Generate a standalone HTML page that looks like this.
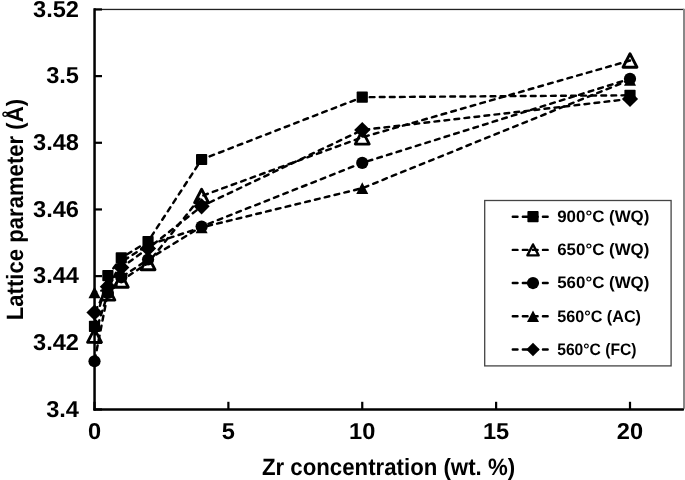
<!DOCTYPE html>
<html><head><meta charset="utf-8"><style>
html,body{margin:0;padding:0;background:#fff;}
svg{display:block;will-change:transform;}
text{font-family:"Liberation Sans",sans-serif;font-weight:bold;fill:#000;text-rendering:geometricPrecision;}
.tk{font-size:23.0px;}
.tt{font-size:23.6px;}
.lg{font-size:16.6px;}
</style></head><body>
<svg width="685" height="480" viewBox="0 0 685 480">
<rect width="685" height="480" fill="#fff"/>
<rect x="94.5" y="8.8" width="589.5" height="1.3" fill="#222"/>
<rect x="683" y="8.8" width="2" height="400" fill="#888"/>
<rect x="93.3" y="8.3" width="2.5" height="402.4" fill="#000"/>
<rect x="93.3" y="408.2" width="590.8" height="2.5" rx="1" fill="#000"/>
<rect x="94" y="408.35" width="8" height="2.2" fill="#000"/>
<rect x="94" y="341.68" width="8" height="2.2" fill="#000"/>
<rect x="94" y="275.02" width="8" height="2.2" fill="#000"/>
<rect x="94" y="208.35" width="8" height="2.2" fill="#000"/>
<rect x="94" y="141.68" width="8" height="2.2" fill="#000"/>
<rect x="94" y="75.01" width="8" height="2.2" fill="#000"/>
<rect x="94" y="8.35" width="8" height="2.2" fill="#000"/>
<rect x="93.40" y="401.8" width="2.2" height="8" fill="#000"/>
<rect x="227.28" y="401.8" width="2.2" height="8" fill="#000"/>
<rect x="361.15" y="401.8" width="2.2" height="8" fill="#000"/>
<rect x="495.02" y="401.8" width="2.2" height="8" fill="#000"/>
<rect x="628.90" y="401.8" width="2.2" height="8" fill="#000"/>
<polyline points="94.50,326.40 107.89,275.60 121.28,257.80 148.05,241.50 201.60,159.50 362.25,97.20 630.00,95.30" fill="none" stroke="#000" stroke-width="2.45" stroke-dasharray="4.75 5.32" stroke-dashoffset="-1.225" stroke-linecap="round"/>
<polyline points="94.50,335.60 107.89,293.30 121.28,280.50 148.05,263.00 201.60,196.00 362.25,137.30 630.00,60.50" fill="none" stroke="#000" stroke-width="2.45" stroke-dasharray="4.75 5.32" stroke-dashoffset="-1.225" stroke-linecap="round"/>
<polyline points="94.50,361.25 107.89,293.00 121.28,277.30 148.05,259.50 201.60,226.50 362.25,162.90 630.00,78.80" fill="none" stroke="#000" stroke-width="2.45" stroke-dasharray="4.75 5.32" stroke-dashoffset="-1.225" stroke-linecap="round"/>
<polyline points="94.50,292.30 107.89,289.00 121.28,262.00 148.05,245.00 201.60,227.40 362.25,188.20 630.00,79.80" fill="none" stroke="#000" stroke-width="2.45" stroke-dasharray="4.75 5.32" stroke-dashoffset="-7.015" stroke-linecap="round"/>
<polyline points="94.50,312.50 107.89,286.70 121.28,267.50 148.05,248.50 201.60,206.30 362.25,130.00 630.00,98.90" fill="none" stroke="#000" stroke-width="2.45" stroke-dasharray="4.75 5.32" stroke-dashoffset="-1.225" stroke-linecap="round"/>
<rect x="88.90" y="320.80" width="11.20" height="11.20" rx="0.8" fill="#000"/>
<rect x="102.29" y="270.00" width="11.20" height="11.20" rx="0.8" fill="#000"/>
<rect x="115.68" y="252.20" width="11.20" height="11.20" rx="0.8" fill="#000"/>
<rect x="142.45" y="235.90" width="11.20" height="11.20" rx="0.8" fill="#000"/>
<rect x="196.00" y="153.90" width="11.20" height="11.20" rx="0.8" fill="#000"/>
<rect x="356.65" y="91.60" width="11.20" height="11.20" rx="0.8" fill="#000"/>
<rect x="624.40" y="89.70" width="11.20" height="11.20" rx="0.8" fill="#000"/>
<polygon points="94.50,328.85 101.50,342.35 87.50,342.35" fill="none" stroke="#000" stroke-width="2.8" stroke-linejoin="round"/>
<polygon points="107.89,286.55 114.89,300.05 100.89,300.05" fill="none" stroke="#000" stroke-width="2.8" stroke-linejoin="round"/>
<polygon points="121.28,273.75 128.28,287.25 114.28,287.25" fill="none" stroke="#000" stroke-width="2.8" stroke-linejoin="round"/>
<polygon points="148.05,256.25 155.05,269.75 141.05,269.75" fill="none" stroke="#000" stroke-width="2.8" stroke-linejoin="round"/>
<polygon points="201.60,189.25 208.60,202.75 194.60,202.75" fill="none" stroke="#000" stroke-width="2.8" stroke-linejoin="round"/>
<polygon points="362.25,130.55 369.25,144.05 355.25,144.05" fill="none" stroke="#000" stroke-width="2.8" stroke-linejoin="round"/>
<polygon points="630.00,53.75 637.00,67.25 623.00,67.25" fill="none" stroke="#000" stroke-width="2.8" stroke-linejoin="round"/>
<circle cx="94.50" cy="361.25" r="6.1" fill="#000"/>
<circle cx="107.89" cy="293.00" r="6.1" fill="#000"/>
<circle cx="121.28" cy="277.30" r="6.1" fill="#000"/>
<circle cx="148.05" cy="259.50" r="6.1" fill="#000"/>
<circle cx="201.60" cy="226.50" r="6.1" fill="#000"/>
<circle cx="362.25" cy="162.90" r="6.1" fill="#000"/>
<circle cx="630.00" cy="78.80" r="6.1" fill="#000"/>
<polygon points="94.50,286.45 100.50,298.15 88.50,298.15" fill="#000"/>
<polygon points="107.89,283.15 113.89,294.85 101.89,294.85" fill="#000"/>
<polygon points="121.28,256.15 127.28,267.85 115.28,267.85" fill="#000"/>
<polygon points="148.05,239.15 154.05,250.85 142.05,250.85" fill="#000"/>
<polygon points="201.60,221.55 207.60,233.25 195.60,233.25" fill="#000"/>
<polygon points="362.25,182.35 368.25,194.05 356.25,194.05" fill="#000"/>
<polygon points="630.00,73.95 636.00,85.65 624.00,85.65" fill="#000"/>
<polygon points="94.50,304.40 102.60,312.50 94.50,320.60 86.40,312.50" fill="#000"/>
<polygon points="107.89,278.60 115.99,286.70 107.89,294.80 99.79,286.70" fill="#000"/>
<polygon points="121.28,259.40 129.38,267.50 121.28,275.60 113.18,267.50" fill="#000"/>
<polygon points="148.05,240.40 156.15,248.50 148.05,256.60 139.95,248.50" fill="#000"/>
<polygon points="201.60,198.20 209.70,206.30 201.60,214.40 193.50,206.30" fill="#000"/>
<polygon points="362.25,121.90 370.35,130.00 362.25,138.10 354.15,130.00" fill="#000"/>
<polygon points="630.00,90.80 638.10,98.90 630.00,107.00 621.90,98.90" fill="#000"/>
<rect x="484.7" y="200.5" width="186.4" height="165.4" fill="#fff" stroke="#444" stroke-width="1.3"/>
<line x1="512.8" y1="216.70" x2="548" y2="216.70" stroke="#000" stroke-width="2.45" stroke-dasharray="4.7 5.35" stroke-linecap="round"/>
<rect x="527.40" y="211.10" width="11.20" height="11.20" rx="0.8" fill="#000"/>
<text x="557.2" y="222.10" class="lg" textLength="92.2" lengthAdjust="spacingAndGlyphs">900°C (WQ)</text>
<line x1="512.8" y1="249.88" x2="548" y2="249.88" stroke="#000" stroke-width="2.45" stroke-dasharray="4.7 5.35" stroke-linecap="round"/>
<polygon points="533.00,244.43 538.60,255.33 527.40,255.33" fill="none" stroke="#000" stroke-width="2.4" stroke-linejoin="round"/>
<text x="557.2" y="255.28" class="lg" textLength="92.2" lengthAdjust="spacingAndGlyphs">650°C (WQ)</text>
<line x1="512.8" y1="283.06" x2="548" y2="283.06" stroke="#000" stroke-width="2.45" stroke-dasharray="4.7 5.35" stroke-linecap="round"/>
<circle cx="533.00" cy="283.06" r="6.1" fill="#000"/>
<text x="557.2" y="288.46" class="lg" textLength="92.2" lengthAdjust="spacingAndGlyphs">560°C (WQ)</text>
<line x1="512.8" y1="316.24" x2="548" y2="316.24" stroke="#000" stroke-width="2.45" stroke-dasharray="4.7 5.35" stroke-linecap="round"/>
<polygon points="533.00,310.39 539.00,322.09 527.00,322.09" fill="#000"/>
<text x="557.2" y="321.64" class="lg" textLength="83.8" lengthAdjust="spacingAndGlyphs">560°C (AC)</text>
<line x1="512.8" y1="349.42" x2="548" y2="349.42" stroke="#000" stroke-width="2.45" stroke-dasharray="4.7 5.35" stroke-linecap="round"/>
<polygon points="533.00,342.67 539.75,349.42 533.00,356.17 526.25,349.42" fill="#000"/>
<text x="557.2" y="354.82" class="lg" textLength="79.4" lengthAdjust="spacingAndGlyphs">560°C (FC)</text>
<text x="79" y="416.65" class="tk" text-anchor="end" textLength="32.83" lengthAdjust="spacingAndGlyphs">3.4</text>
<text x="79" y="349.98" class="tk" text-anchor="end" textLength="45.97" lengthAdjust="spacingAndGlyphs">3.42</text>
<text x="79" y="283.32" class="tk" text-anchor="end" textLength="45.97" lengthAdjust="spacingAndGlyphs">3.44</text>
<text x="79" y="216.65" class="tk" text-anchor="end" textLength="45.97" lengthAdjust="spacingAndGlyphs">3.46</text>
<text x="79" y="149.98" class="tk" text-anchor="end" textLength="45.97" lengthAdjust="spacingAndGlyphs">3.48</text>
<text x="79" y="83.31" class="tk" text-anchor="end" textLength="32.83" lengthAdjust="spacingAndGlyphs">3.5</text>
<text x="79" y="16.65" class="tk" text-anchor="end" textLength="45.97" lengthAdjust="spacingAndGlyphs">3.52</text>
<text x="94.50" y="438.8" class="tk" text-anchor="middle" textLength="13.13" lengthAdjust="spacingAndGlyphs">0</text>
<text x="228.38" y="438.8" class="tk" text-anchor="middle" textLength="13.13" lengthAdjust="spacingAndGlyphs">5</text>
<text x="362.25" y="438.8" class="tk" text-anchor="middle" textLength="26.27" lengthAdjust="spacingAndGlyphs">10</text>
<text x="496.12" y="438.8" class="tk" text-anchor="middle" textLength="26.27" lengthAdjust="spacingAndGlyphs">15</text>
<text x="630.00" y="438.8" class="tk" text-anchor="middle" textLength="26.27" lengthAdjust="spacingAndGlyphs">20</text>
<text x="388.5" y="474.6" class="tt" text-anchor="middle" textLength="253.2" lengthAdjust="spacingAndGlyphs">Zr concentration (wt. %)</text>
<text transform="translate(22.6,209.6) rotate(-90)" class="tt" text-anchor="middle" textLength="221.2" lengthAdjust="spacingAndGlyphs">Lattice parameter (Å)</text>
</svg>
</body></html>
